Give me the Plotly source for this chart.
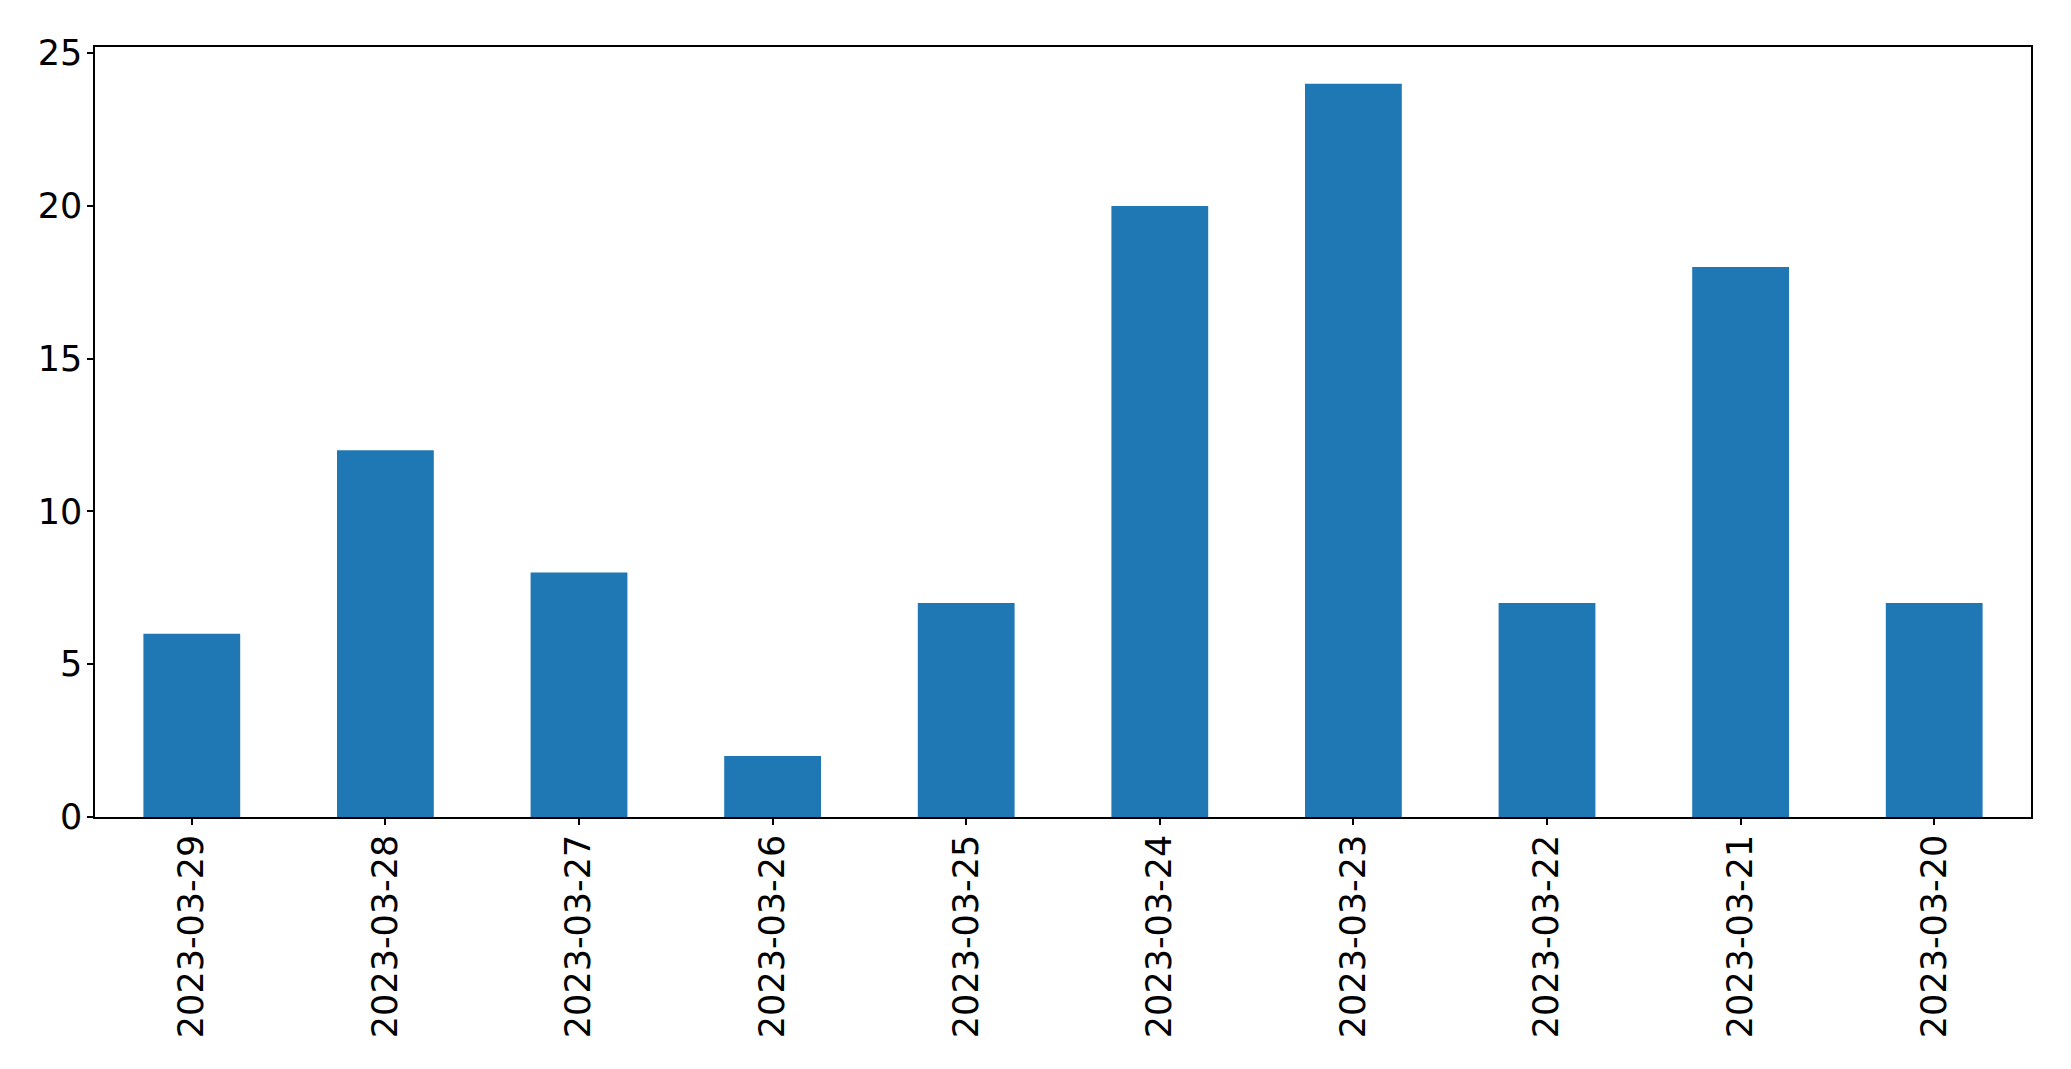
import plotly.graph_objects as go

dates = ["2023-03-29", "2023-03-28", "2023-03-27", "2023-03-26", "2023-03-25",
         "2023-03-24", "2023-03-23", "2023-03-22", "2023-03-21", "2023-03-20"]
counts = [6, 12, 8, 2, 7, 20, 24, 7, 18, 7]
y_ticks = [0, 5, 10, 15, 20, 25]

fig = go.Figure(go.Bar(x=dates, y=counts, marker=dict(color="#1f77b4", line=dict(width=0)), width=0.5))

font = dict(family="DejaVu Sans", size=35, color="black")
fig.update_layout(
    width=2071, height=1069,
    margin=dict(l=87, r=48, t=39, b=260, pad=0),
    paper_bgcolor="white", plot_bgcolor="white",
    showlegend=False,
    font=font,
)
fig.update_xaxes(
    type="category", range=[-0.5, 9.5], tickangle=-90,
    showline=True, linecolor="black", linewidth=1.5, mirror=True,
    ticks="outside", ticklen=6, tickwidth=1.5, tickcolor="black",
    showgrid=False, zeroline=False, tickfont=font, ticklabelstandoff=-4,
)
fig.update_yaxes(
    range=[0, 25.2], tickvals=y_ticks,
    showline=True, linecolor="black", linewidth=1.5, mirror=True,
    ticks="outside", ticklen=6, tickwidth=1.5, tickcolor="black",
    showgrid=False, zeroline=False, tickfont=font, ticklabelstandoff=-2,
)
fig.write_html("out.html")
